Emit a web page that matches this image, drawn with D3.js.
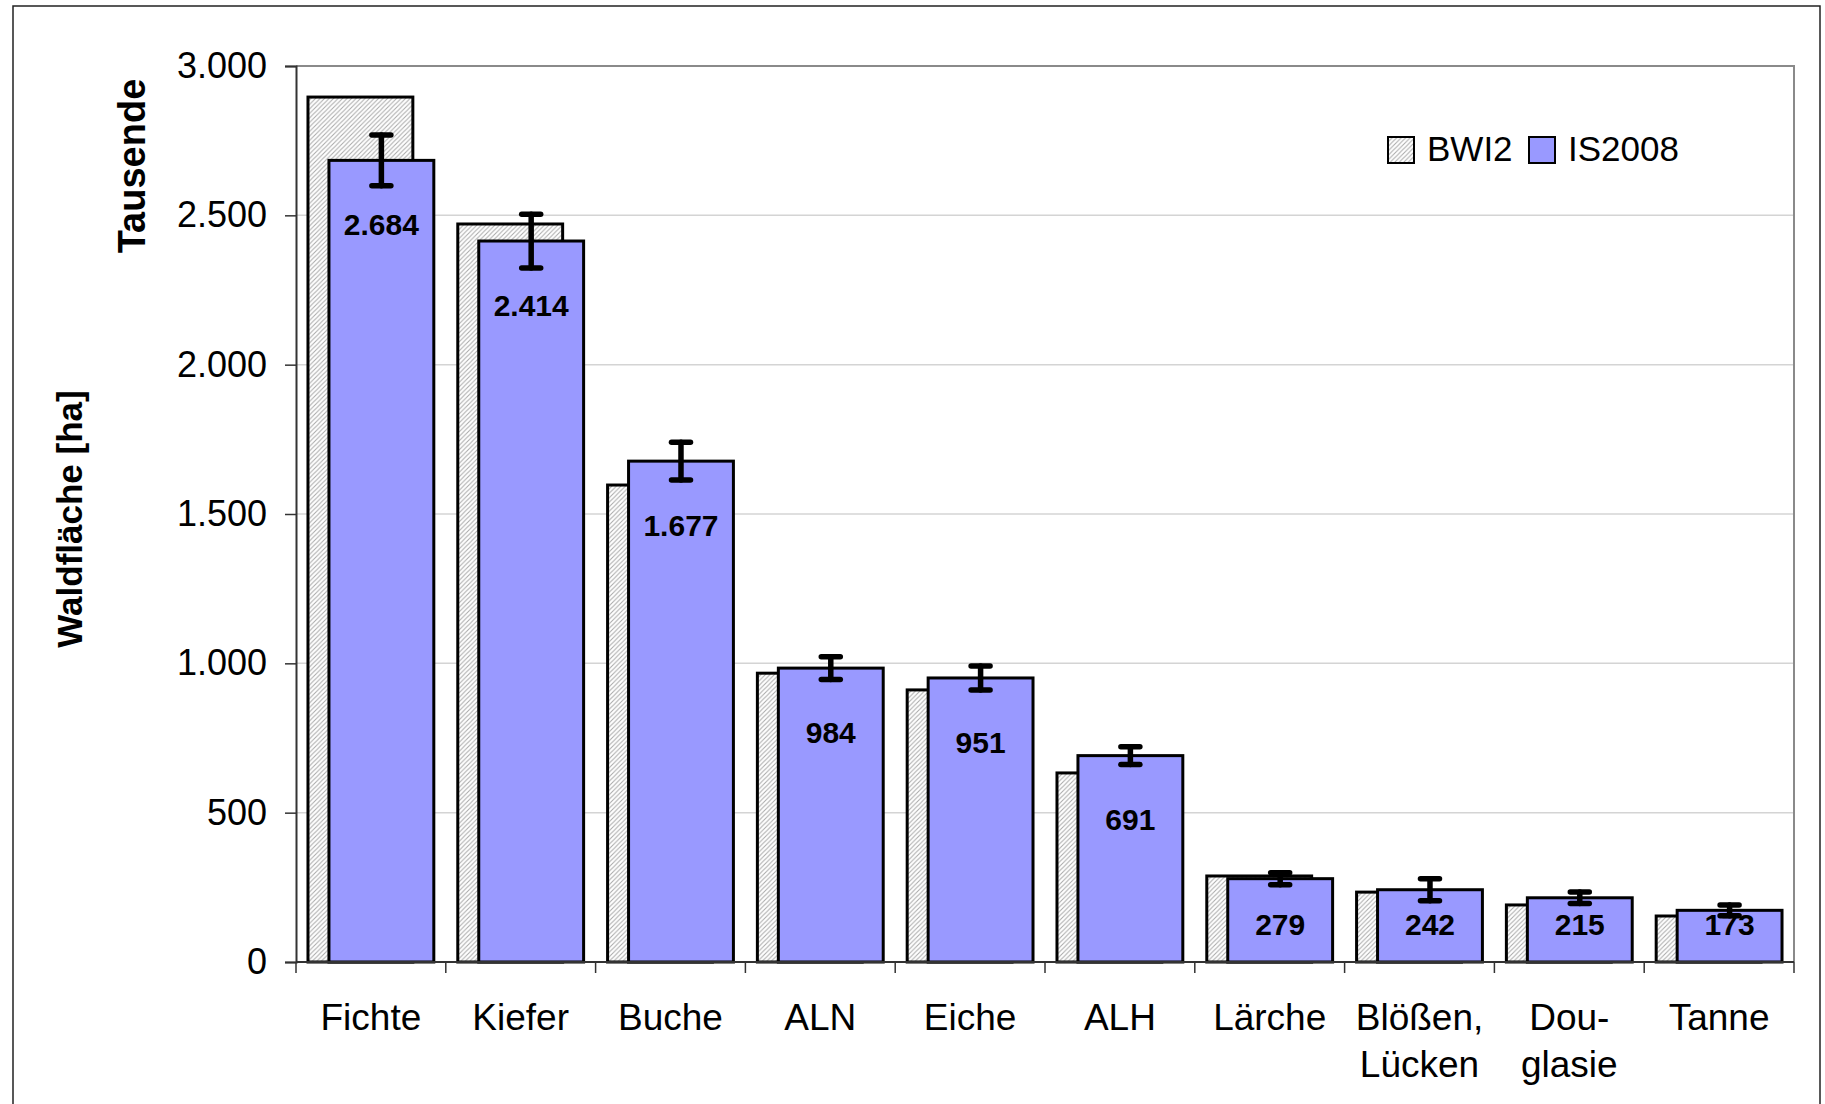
<!DOCTYPE html>
<html>
<head>
<meta charset="utf-8">
<script src="https://cdn.jsdelivr.net/npm/d3@7"></script>
<style>
  html, body { margin: 0; padding: 0; background: #fff; }
  svg { display: block; font-family: "Liberation Sans", Arial, Helvetica, sans-serif; }
</style>
</head>
<body>
<svg id="chart" width="1825" height="1104"></svg>
<script>
// ---- data ----
const categories = [["Fichte"], ["Kiefer"], ["Buche"], ["ALN"], ["Eiche"], ["ALH"], ["Lärche"], ["Blößen,", "Lücken"], ["Dou-", "glasie"], ["Tanne"]];
const seriesNames = ["BWI2", "IS2008"];
const bwi2Values = [2896, 2471, 1597, 967, 911, 633, 288, 234, 191, 154];
const is2008Values = [2684, 2414, 1677, 984, 951, 691, 279, 242, 215, 173];
const is2008Errors = [85, 90, 63, 38, 40, 30, 20, 37, 19, 18];
const yTicks = [0, 500, 1000, 1500, 2000, 2500, 3000];
const yTitle = "Waldfläche [ha]";
const yUnit = "Tausende";

// ---- layout ----
const svg = d3.select("#chart");
const W = 1825, H = 1104;
const plot = { left: 296, right: 1794, top: 66, bottom: 962 };
const fmt = v => d3.format(",")(v).replace(/,/g, ".");

svg.append("rect").attr("width", W).attr("height", H).attr("fill", "#fff");

const defs = svg.append("defs");
const pat = defs.append("pattern").attr("id", "hatch")
  .attr("patternUnits", "userSpaceOnUse").attr("width", 4.5).attr("height", 4.5);
pat.append("rect").attr("width", 4.5).attr("height", 4.5).attr("fill", "#fff");
pat.append("path").attr("d", "M0,4.5 L4.5,0 M-1,1 L1,-1 M3.5,5.5 L5.5,3.5")
  .attr("stroke", "#a8a8a8").attr("stroke-width", 1);

// outer chart border
svg.append("rect").attr("x", 13).attr("y", 6).attr("width", 1807).attr("height", 1120)
  .attr("fill", "none").attr("stroke", "#222").attr("stroke-width", 1.5);

const x = d3.scaleBand().domain(d3.range(categories.length)).range([plot.left, plot.right]).padding(0);
const y = d3.scaleLinear().domain([0, 3000]).range([plot.bottom, plot.top]);
const bw = x.bandwidth();
const barW = bw * 0.70;
const off = bw * 0.14;
const pad = (bw - barW - off) / 2;

// gridlines
svg.append("g").selectAll("line").data(yTicks.filter(t => t > 0 && t < 3000)).join("line")
  .attr("x1", plot.left).attr("x2", plot.right)
  .attr("y1", d => y(d)).attr("y2", d => y(d))
  .attr("stroke", "#d4d4d4").attr("stroke-width", 1.5);
// plot area border (top & right)
svg.append("path")
  .attr("d", `M${plot.left},${y(3000)} H${plot.right} V${plot.bottom}`)
  .attr("fill", "none").attr("stroke", "#8a8a8a").attr("stroke-width", 2);

// y axis
const yAxis = svg.append("g").attr("transform", `translate(${plot.left},0)`)
  .call(d3.axisLeft(y).tickValues(yTicks).tickFormat(fmt).tickSize(11).tickPadding(18));
yAxis.select(".domain").attr("stroke", "#333").attr("stroke-width", 2);
yAxis.selectAll(".tick line").attr("stroke", "#333").attr("stroke-width", 1.5);
yAxis.selectAll(".tick text").attr("font-size", 36).attr("fill", "#000")
  .attr("font-family", "'Liberation Sans', Arial, sans-serif");

// bars BWI2
svg.append("g").selectAll("rect").data(bwi2Values).join("rect")
  .attr("x", (d, i) => x(i) + pad)
  .attr("y", d => y(d))
  .attr("width", barW)
  .attr("height", d => y(0) - y(d))
  .attr("fill", "url(#hatch)").attr("stroke", "#000").attr("stroke-width", 3);

// bars IS2008
svg.append("g").selectAll("rect").data(is2008Values).join("rect")
  .attr("x", (d, i) => x(i) + pad + off)
  .attr("y", d => y(d))
  .attr("width", barW)
  .attr("height", d => y(0) - y(d))
  .attr("fill", "#9999ff").attr("stroke", "#000").attr("stroke-width", 3);

// x axis
const xAxisG = svg.append("g");
xAxisG.append("line").attr("x1", plot.left).attr("x2", plot.right)
  .attr("y1", y(0)).attr("y2", y(0)).attr("stroke", "#333").attr("stroke-width", 2);
xAxisG.selectAll("line.tk").data(d3.range(categories.length + 1)).join("line").attr("class", "tk")
  .attr("x1", i => plot.left + i * bw).attr("x2", i => plot.left + i * bw)
  .attr("y1", y(0)).attr("y2", y(0) + 11).attr("stroke", "#333").attr("stroke-width", 1.5);
const xl = xAxisG.selectAll("text").data(categories).join("text")
  .attr("x", (d, i) => x(i) + bw / 2).attr("y", 1030)
  .attr("text-anchor", "middle").attr("font-size", 37).attr("fill", "#000");
xl.each(function (lines) {
  const t = d3.select(this);
  lines.forEach((ln, k) => {
    t.append("tspan").attr("x", t.attr("x")).attr("dy", k === 0 ? 0 : 47).text(ln);
  });
});

// error bars
const eg = svg.append("g").attr("stroke", "#000").attr("stroke-width", 5.5).attr("stroke-linecap", "round");
is2008Values.forEach((v, i) => {
  const cx = x(i) + pad + off + barW / 2;
  const e = is2008Errors[i];
  eg.append("line").attr("x1", cx).attr("x2", cx).attr("y1", y(v + e)).attr("y2", y(v - e));
  eg.append("line").attr("x1", cx - 9.5).attr("x2", cx + 9.5).attr("y1", y(v + e)).attr("y2", y(v + e));
  eg.append("line").attr("x1", cx - 9.5).attr("x2", cx + 9.5).attr("y1", y(v - e)).attr("y2", y(v - e));
});

// value labels
svg.append("g").selectAll("text").data(is2008Values).join("text")
  .attr("x", (d, i) => x(i) + pad + off + barW / 2)
  .attr("y", d => Math.min(y(d) + 64, y(0) - 38))
  .attr("dy", "0.36em")
  .attr("text-anchor", "middle").attr("font-size", 30).attr("font-weight", "bold").attr("fill", "#000")
  .text(d => fmt(d));

// axis titles
svg.append("text").attr("transform", "translate(82,519) rotate(-90)")
  .attr("text-anchor", "middle").attr("font-size", 35).attr("font-weight", "bold").text(yTitle);
svg.append("text").attr("transform", "translate(145,166) rotate(-90)")
  .attr("text-anchor", "middle").attr("font-size", 38).attr("font-weight", "bold").text(yUnit);

// legend
const legend = svg.append("g");
const legItems = [
  { name: seriesNames[0], fill: "url(#hatch)", bx: 1388, tx: 1427 },
  { name: seriesNames[1], fill: "#9999ff", bx: 1529, tx: 1568 }
];
legItems.forEach(it => {
  legend.append("rect").attr("x", it.bx).attr("y", 137).attr("width", 26).attr("height", 26)
    .attr("fill", it.fill).attr("stroke", "#000").attr("stroke-width", 2);
  legend.append("text").attr("x", it.tx).attr("y", 161).attr("font-size", 35).attr("fill", "#000").text(it.name);
});
</script>
</body>
</html>
